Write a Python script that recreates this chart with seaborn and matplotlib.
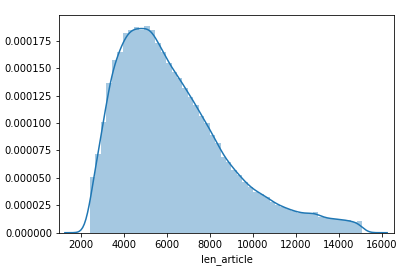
import numpy as np
import pandas as pd
import matplotlib
matplotlib.use("Agg")
import matplotlib.pyplot as plt
import seaborn as sns

# ---- data ----
hist_start = 2420
hist_end = 15070
heights = [
    5.10e-5, 7.17e-5, 10.12e-5, 13.62e-5, 15.74e-5, 16.50e-5, 18.17e-5, 18.47e-5, 18.75e-5, 18.47e-5,
    18.84e-5, 18.47e-5, 17.26e-5, 16.50e-5, 15.44e-5, 14.67e-5, 14.07e-5, 13.16e-5, 12.40e-5, 11.64e-5,
    10.62e-5, 9.97e-5, 8.90e-5, 8.15e-5, 6.93e-5, 6.47e-5, 5.71e-5, 5.26e-5, 4.59e-5, 4.19e-5,
    3.74e-5, 3.57e-5, 3.25e-5, 2.84e-5, 2.57e-5, 2.34e-5, 2.16e-5, 1.98e-5, 1.82e-5, 1.77e-5,
    1.73e-5, 1.91e-5, 1.40e-5, 1.33e-5, 1.28e-5, 1.22e-5, 1.18e-5, 1.12e-5, 0.95e-5, 1.05e-5,
]
x_label = "len_article"

# ---- build ----
n_bins = len(heights)
edges = np.linspace(hist_start, hist_end, n_bins + 1)
centers = (edges[:-1] + edges[1:]) / 2
df = pd.DataFrame({x_label: centers, "h": heights})

W, H, DPI = 410, 273, 72
fig = plt.figure(figsize=(W / DPI, H / DPI), dpi=DPI)
ax = fig.add_axes([59 / W, 1 - 232.7 / H, (394 - 59) / W, (232.7 - 15) / H])

c0 = "#1f77b4"

# smoothing settings for the density line
w = np.asarray(heights)
mean = np.sum(w * centers) / w.sum()
wstd = np.sqrt(np.sum(w * (centers - mean) ** 2) / w.sum())
bw_target = 259.0
kde_kws = dict(bw_method=bw_target / wstd,
               cut=(bw_target * 3 + (edges[1] - edges[0]) / 2) / bw_target)

sns.histplot(data=df, x=x_label, weights="h", bins=n_bins,
             binrange=(hist_start, hist_end), stat="count",
             color=c0, alpha=0.4, linewidth=0, ax=ax,
             kde=True, kde_kws=kde_kws, line_kws=dict(linewidth=1.5))

ax.set_xlim(977, 16558)
ax.set_ylim(0, 1.985e-4)
ax.set_xticks(np.arange(2000, 16001, 2000))
ax.set_yticks(np.arange(0, 0.000176, 0.000025))
ax.set_ylabel("")
ax.set_xlabel(x_label)
for s in ax.spines.values():
    s.set_linewidth(0.8)

fig.savefig("out.png", dpi=DPI)
